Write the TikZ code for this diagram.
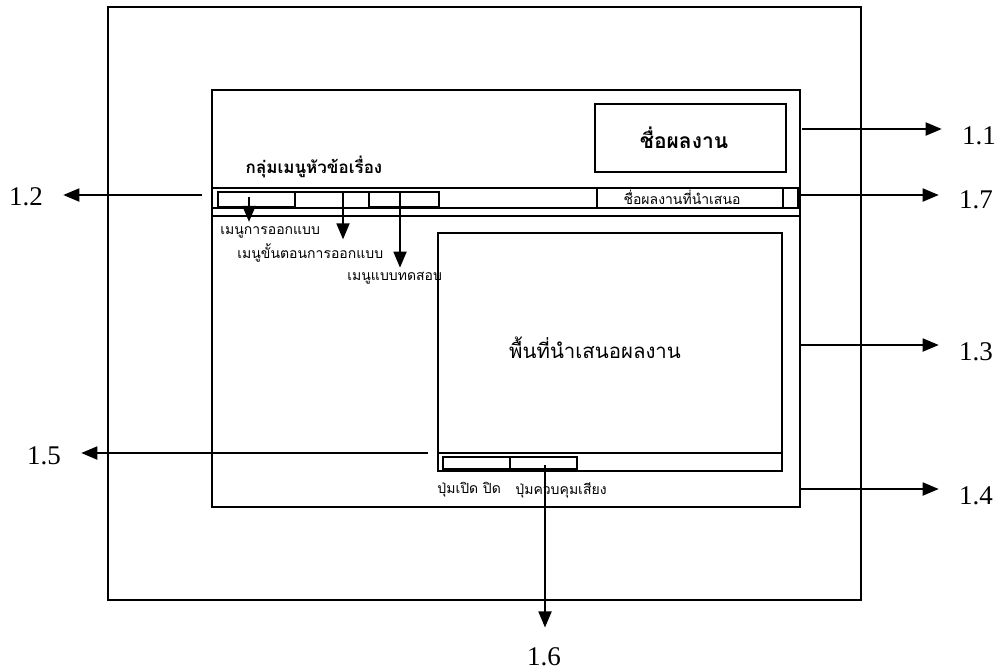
\documentclass[tikz,border=0pt]{standalone}
\usepackage{fontspec}
\setmainfont{Liberation Serif}
\newfontfamily\thai[Script=Thai]{Loma}
\usetikzlibrary{arrows.meta,positioning}

\begin{document}
\begin{tikzpicture}[x=0.5pt,y=-0.5pt,>={Triangle[length=8pt,width=6.5pt]},
  frame/.style={draw,line width=.85pt},
  btn/.style={draw,line width=1.4pt},
  thsmall/.style={font=\thai\fontsize{7}{8}\selectfont,inner sep=0pt},
  thmid/.style={font=\thai\bfseries\fontsize{8.5}{10}\selectfont,inner sep=0pt},
  thbig/.style={font=\thai\fontsize{10.2}{12}\selectfont,inner sep=0pt},
  num/.style={font=\fontsize{13.5}{15}\selectfont,inner sep=0pt},
  callout/.style={->,line width=.9pt,shorten >=10pt},
  menuarr/.style={->,line width=.9pt,shorten >=2pt}]
  \useasboundingbox (0,0) rectangle (999,671);
  % frames
  \draw[frame] (108,7) rectangle (861,600);
  \draw[frame] (212,90) rectangle (800,507);
  \draw[frame] (595,104) rectangle (786,172);
  \draw[frame] (212,188) rectangle (800,208); \draw[frame] (212,216)--(800,216);
  \draw[btn] (218,192) rectangle (295,207); \draw[frame] (295,192) rectangle (369,208);
  \draw[btn] (369,192) rectangle (439,207);
  \draw[frame] (597,188) rectangle (783,208); \draw[frame] (783,188) rectangle (798,208);
  \draw[frame] (438,233) rectangle (782,471); \draw[frame] (438,453)--(782,453);
  \draw[btn] (443,457) rectangle (510,469); \draw[btn] (510,457) rectangle (577,469);
  % texts
  \node[thbig,font=\thai\bfseries\fontsize{10.5}{13}\selectfont] (title) at (684,138) {ชื่อผลงาน};
  \node[thmid] (group) at (314,167) {กลุ่มเมนูหัวข้อเรื่อง};
  \node[thsmall] (headline) at (682,197) {ชื่อผลงานที่นำเสนอ};
  \node[thsmall,anchor=west] (mdesign) at (220,232) {เมนูการออกแบบ};
  \node[thsmall,anchor=west] (msteps) at (237,253) {เมนูขั้นตอนการออกแบบ};
  \node[thsmall,anchor=west] (mtest) at (347,278) {เมนูแบบทดสอบ};
  \node[thbig] (area) at (595,348) {พื้นที่นำเสนอผลงาน};
  \node[thsmall,anchor=west] (bonoff) at (437,490) {ปุ่มเปิด ปิด};
  \node[thsmall,anchor=west] (bsound) at (515,490) {ปุ่มควบคุมเสียง};
  % numbers
  \node[num] (l11) at (979,136) {1.1};
  \node[num] (l12) at (26,197) {1.2};
  \node[num] (l13) at (976,352) {1.3};
  \node[num] (l14) at (976,496) {1.4};
  \node[num] (l15) at (44,456) {1.5};
  \node[num] (l16) at (544,657) {1.6};
  \node[num] (l17) at (976,200) {1.7};
  % arrows
  \coordinate (c11) at (802,129); \coordinate (c12) at (202,195); \coordinate (c13) at (800,345);
  \coordinate (c14) at (800,489); \coordinate (c15) at (428,453); \coordinate (c16) at (545,465);
  \coordinate (c17) at (798,195);
  \draw[callout] (c11)--(c11 -| l11.west); \draw[callout] (c17)--(c17 -| l17.west);
  \draw[callout] (c13)--(c13 -| l13.west); \draw[callout] (c14)--(c14 -| l14.west);
  \draw[callout] (c12)--(c12 -| l12.east); \draw[callout] (c15)--(c15 -| l15.east);
  \draw[callout] (c16)--(c16 |- l16.north);
  \coordinate (m1) at (249,197); \coordinate (m2) at (343,192); \coordinate (m3) at (400,192);
  \draw[menuarr] (m1)--(m1 |- mdesign.north); \draw[menuarr] (m2)--(m2 |- msteps.north);
  \draw[menuarr] (m3)--(m3 |- mtest.north);
\end{tikzpicture}
\end{document}
